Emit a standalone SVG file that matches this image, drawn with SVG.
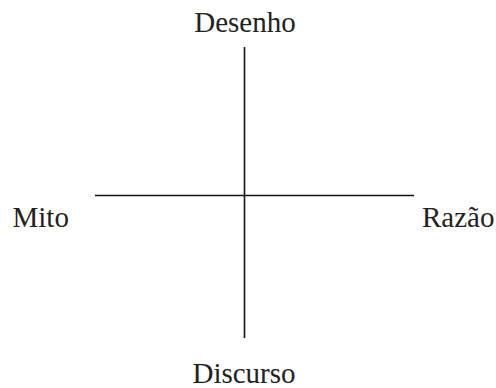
<svg xmlns="http://www.w3.org/2000/svg" width="496" height="388" viewBox="0 0 496 388">
<style>
text{font-family:"Liberation Serif","Times New Roman",serif;font-size:29px;fill:#222}
.ax{stroke:#111;stroke-width:1.6;fill:none}
</style>
<rect width="496" height="388" fill="#fff"/>
<g id="connectors">
<line class="ax" x1="244.5" y1="47" x2="244.5" y2="338"/>
<line class="ax" x1="95" y1="195.5" x2="414" y2="195.5"/>
</g>
<g id="desenho"><text x="245" y="32" text-anchor="middle">Desenho</text></g>
<g id="mito"><text x="12.5" y="227">Mito</text></g>
<g id="razao"><text x="422" y="227">Razão</text></g>
<g id="discurso"><text x="244" y="383" text-anchor="middle">Discurso</text></g>
</svg>
